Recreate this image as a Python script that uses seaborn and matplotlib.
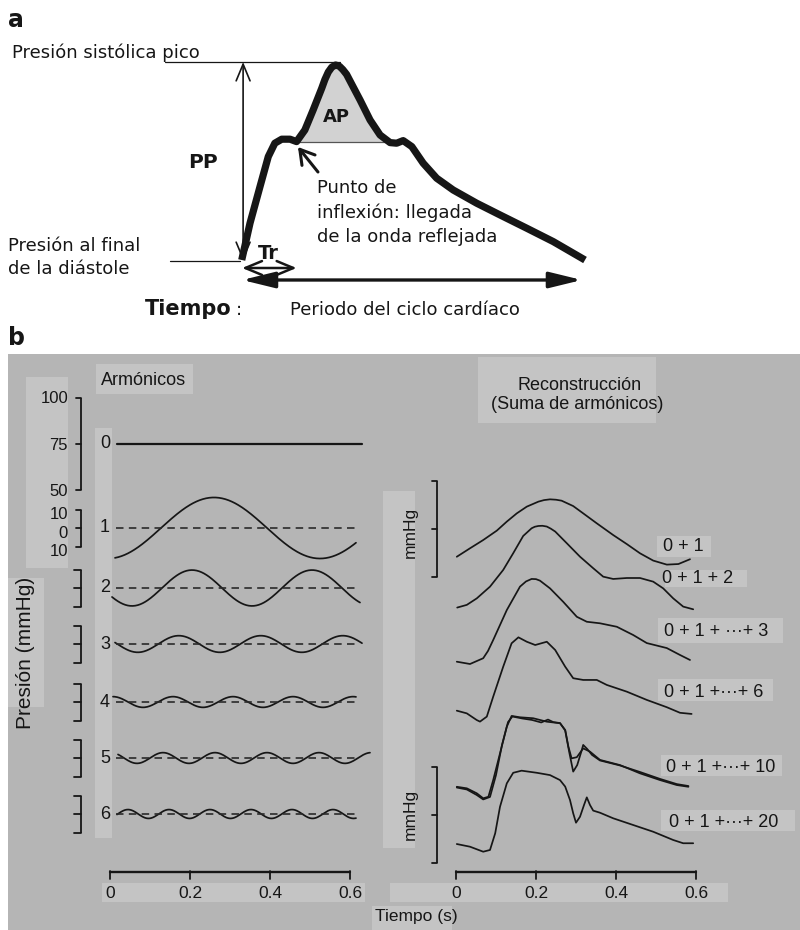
import numpy as np
import matplotlib
matplotlib.use("Agg")
import matplotlib.pyplot as plt
import matplotlib.transforms as mtransforms
from matplotlib.patches import Rectangle
import seaborn as sns

sns.set_theme(style="white")
plt.rcParams["font.family"] = ["Liberation Sans", "DejaVu Sans"]

# ---------------------------------------------------------------- data
# (a) schematic arterial pressure wave: time as fraction of the cycle,
#     pressure normalised (0 = end-diastolic, 1 = peak systolic)
t_onda = [0.005, 0.029, 0.058, 0.082, 0.101, 0.121, 0.145, 0.164, 0.188,
          0.212, 0.237, 0.246, 0.256, 0.266, 0.277, 0.288, 0.298, 0.309,
          0.319, 0.348, 0.377, 0.406, 0.435, 0.454, 0.473, 0.498, 0.531,
          0.570, 0.618, 0.686, 0.754, 0.831, 0.908, 1.0]
p_onda = [0.01, 0.194, 0.377, 0.527, 0.594, 0.614, 0.614, 0.602, 0.66,
          0.76, 0.869, 0.912, 0.950, 0.974, 0.985, 0.979, 0.962, 0.938,
          0.905, 0.81, 0.71, 0.635, 0.597, 0.594, 0.607, 0.577, 0.494,
          0.419, 0.36, 0.294, 0.235, 0.169, 0.102, 0.01]
t_inflexion = 0.164     # arrival of the reflected wave (Tr)
t_muesca = 0.435        # end of the augmentation zone
p_inflexion = 0.601
p_sistolica = 1.0
p_diastolica = 0.005

# (b) harmonics of the measured pressure wave
presion_media = 75                                   # mmHg, harmonic 0
armonicos = [1, 2, 3, 4, 5, 6]
amplitud = [16.5, 9.7, 4.5, 2.9, 2.9, 2.4]           # mmHg
periodo = [0.53, 0.30, 0.205, 0.15, 0.13, 0.1025]    # s
t_pico = [0.26, 0.205, 0.172, 0.0075, 0.1325, 0.045]  # s, first maximum
t_inicio = [0.0125, 0.005, 0.0125, 0.0075, 0.02, 0.0175]
t_fin = [0.615, 0.625, 0.63, 0.615, 0.65, 0.615]

escala_0 = [100, 75, 50]
escala_1 = [10, 0, -10]
escala_1_txt = ["10", "0", "10"]
escala_recon = [50, 75, 100]
ticks_t = [0, 0.2, 0.4, 0.6]
ticks_t_txt = ["0", "0.2", "0.4", "0.6"]

# (b) reconstructions (partial sums of harmonics), t in s, p in mmHg
t_A = [0.002, 0.035, 0.068, 0.102, 0.127, 0.152, 0.177, 0.206, 0.22, 0.235,
       0.25, 0.264, 0.293, 0.318, 0.352, 0.393, 0.427, 0.46, 0.493, 0.527,
       0.556, 0.585]
p_A = [60.3, 64.7, 69.0, 73.9, 78.6, 82.9, 86.4, 89.0, 89.8, 90.2,
       90.0, 89.5, 86.7, 82.9, 77.7, 71.6, 66.9, 62.1, 58.3, 56.2,
       56.5, 59.0]

t_B = [0.003, 0.027, 0.052, 0.085, 0.118, 0.143, 0.168, 0.189, 0.197, 0.206,
       0.216, 0.227, 0.237, 0.248, 0.277, 0.31, 0.343, 0.368, 0.393, 0.427,
       0.46, 0.493, 0.518, 0.543, 0.568, 0.593]
p_B = [56.9, 58.3, 61.7, 67.8, 76.5, 85.2, 94.2, 98.2, 99.0, 99.4,
       99.5, 99.1, 98.0, 96.5, 90.4, 83.4, 77.4, 73.0, 71.8, 72.3,
       72.3, 70.4, 66.9, 61.7, 57.4, 56.0]

t_C = [0.002, 0.035, 0.068, 0.08, 0.093, 0.127, 0.16, 0.175, 0.189, 0.2,
       0.21, 0.235, 0.268, 0.302, 0.327, 0.36, 0.402, 0.443, 0.477, 0.527,
       0.56, 0.585]
p_C = [57.2, 56.0, 59.0, 62.8, 68.5, 84.1, 96.3, 99.0, 100.3, 100.2,
       99.4, 95.4, 88.4, 80.6, 78.0, 77.2, 75.4, 71.1, 66.9, 64.3,
       60.7, 58.1]

t_D = [0.002, 0.027, 0.052, 0.06, 0.077, 0.093, 0.118, 0.139, 0.156, 0.177,
       0.198, 0.227, 0.248, 0.273, 0.293, 0.318, 0.352, 0.377, 0.427, 0.477,
       0.527, 0.56, 0.589]
p_D = [61.9, 60.5, 57.0, 56.2, 58.8, 69.2, 84.8, 97.0, 100.1, 97.8,
       96.1, 97.8, 93.5, 84.8, 78.8, 77.9, 77.9, 75.3, 71.8, 67.5,
       63.7, 60.8, 60.2]

t_E1 = [0.002, 0.027, 0.052, 0.068, 0.081, 0.093, 0.11, 0.127, 0.139, 0.16,
        0.193, 0.227, 0.26, 0.273, 0.281, 0.289, 0.302, 0.318, 0.335, 0.36,
        0.41, 0.46, 0.51, 0.552, 0.581]
p_E1 = [62.0, 61.2, 58.6, 56.0, 56.8, 65.5, 79.4, 93.3, 98.9, 98.2,
        97.7, 95.9, 95.1, 91.6, 82.9, 76.8, 77.4, 82.0, 80.3, 76.0,
        73.3, 69.0, 65.5, 62.9, 62.0]
t_E2 = [0.002, 0.027, 0.052, 0.068, 0.085, 0.1, 0.115, 0.13, 0.141, 0.165,
        0.19, 0.213, 0.23, 0.243, 0.26, 0.273, 0.283, 0.293, 0.303, 0.313,
        0.318, 0.328, 0.34, 0.36, 0.41, 0.46, 0.51, 0.552, 0.581]
p_E2 = [61.6, 60.6, 57.7, 55.4, 56.7, 68.1, 83.8, 95.7, 98.6, 97.6,
        96.8, 95.5, 97.0, 95.7, 95.2, 91.3, 80.1, 69.9, 73.3, 80.1,
        83.8, 81.7, 78.6, 75.7, 73.1, 69.7, 66.1, 63.4, 62.4]

t_F = [0.002, 0.035, 0.068, 0.085, 0.098, 0.11, 0.127, 0.143, 0.164, 0.202,
       0.235, 0.26, 0.273, 0.285, 0.293, 0.3, 0.31, 0.32, 0.327, 0.335,
       0.343, 0.36, 0.393, 0.443, 0.493, 0.543, 0.568, 0.593]
p_F = [60.0, 58.6, 56.0, 56.9, 65.6, 79.4, 91.6, 97.1, 98.2, 97.1,
       95.9, 93.3, 89.9, 82.9, 76.0, 71.1, 74.2, 80.3, 84.3, 80.3,
       77.4, 76.3, 73.4, 69.9, 66.4, 62.1, 60.4, 60.4]

recon_txt = ["0 + 1", "0 + 1 + 2", "0 + 1 + \u00b7\u00b7\u00b7+ 3",
             "0 + 1 +\u00b7\u00b7\u00b7+ 6", "0 + 1 +\u00b7\u00b7\u00b7+ 10",
             "0 + 1 +\u00b7\u00b7\u00b7+ 20"]

# ---------------------------------------------------------------- figure
W, H = 800, 930
fig = plt.figure(figsize=(W / 100, H / 100), dpi=100)
fig.patch.set_facecolor("white")
PX = mtransforms.Affine2D().scale(1 / W, -1 / H).translate(0, 1) + fig.transFigure

INK = "#161616"
GRIS = "#b5b5b5"
CLARO = "#c4c4c4"
FA = "DejaVu Sans"
FB = ["Liberation Sans", "DejaVu Sans"]


def overlay(x0_px, x_scale, y_ref_px, v_ref, y_scale):
    """Transparent full-figure axes with a fixed pixel scale."""
    ax = fig.add_axes([0, 0, 1, 1])
    ax.set_xlim(-x0_px / x_scale, (W - x0_px) / x_scale)
    ax.set_ylim(v_ref - (H - y_ref_px) / y_scale, v_ref + y_ref_px / y_scale)
    ax.set_axis_off()
    return ax


def caja(x0, y0, x1, y1, color=CLARO, z=-1):
    fig.add_artist(Rectangle((x0, y0), x1 - x0, y1 - y0, transform=PX,
                             facecolor=color, edgecolor="none", zorder=z))


def txt(x, y, s, size, **kw):
    kw.setdefault("family", FB)
    fig.text(x, y, s, transform=PX, fontsize=size, color=INK, **kw)


# ================================================================ panel a
ax_a = overlay(240, 345, 262, 0.0, 200)
t_arr, p_arr = np.array(t_onda), np.array(p_onda)
zona = (t_arr >= t_inflexion) & (t_arr <= t_muesca)
ax_a.fill_between(t_arr[zona], p_arr[zona], p_inflexion, color="#d2d2d2",
                  lw=0, zorder=1)
ax_a.plot([t_inflexion, t_muesca], [p_inflexion, p_inflexion],
          color="#555555", lw=0.9, zorder=2)
sns.lineplot(x=t_onda, y=p_onda, sort=False, estimator=None, ax=ax_a,
             color=INK, linewidth=5.2, solid_joinstyle="round",
             solid_capstyle="butt", zorder=3)

ax_a.plot([-0.217, 0.29], [p_sistolica, p_sistolica], color=INK, lw=0.9)
ax_a.plot([-0.203, 0.0], [p_diastolica, p_diastolica], color=INK, lw=0.9)


def flecha(xy0, xy1, style, lw, ms):
    ax_a.annotate("", xy=xy1, xytext=xy0,
                  arrowprops=dict(arrowstyle=style, lw=lw, color=INK,
                                  mutation_scale=ms, shrinkA=0, shrinkB=0))


flecha((0.009, p_diastolica), (0.009, p_sistolica),
       "<->,head_length=0.6,head_width=0.25", 1.2, 20)
flecha((0.006, -0.03), (t_inflexion, -0.03),
       "<->,head_length=0.6,head_width=0.25", 1.8, 20)
flecha((0.006, -0.09), (0.991, -0.09),
       "<|-|>,head_length=0.9,head_width=0.22", 2.4, 22)
flecha((0.226, 0.45), (0.168, 0.575),
       "->,head_length=0.5,head_width=0.3", 2.2, 20)

txt(8, 27, "a", 17, family=FA, weight="bold", va="baseline")
txt(12, 58, "Presión sistólica pico", 13, family=FA, va="baseline")
txt(188, 168, "PP", 14.5, family=FA, weight="bold", va="baseline")
txt(336, 121.5, "AP", 13, family=FA, weight="bold", va="baseline",
    ha="center")
for i, linea in enumerate(["Punto de", "inflexión: llegada",
                           "de la onda reflejada"]):
    txt(316.7, 193.3 + 24.2 * i, linea, 13, family=FA, va="baseline")
txt(8, 251, "Presión al final", 13, family=FA, va="baseline")
txt(8, 274, "de la diástole", 13, family=FA, va="baseline")
txt(258, 259, "Tr", 14, family=FA, weight="bold", va="baseline")
txt(145, 315, "Tiempo", 15, family=FA, weight="bold", va="baseline")
txt(236, 315, ":", 13, family=FA, va="baseline")
txt(290, 315, "Periodo del ciclo cardíaco", 13, family=FA, va="baseline")
txt(8, 345, "b", 17, family=FA, weight="bold", va="baseline")

# ================================================================ panel b
caja(8, 354, W, H, color=GRIS, z=-2)
for b in [(96, 364, 193, 394), (26, 377, 68, 568), (8, 578, 44, 707),
          (95, 428, 112, 838), (478, 357, 656, 423), (383, 491, 415, 848),
          (102, 883, 365, 902), (390, 883, 728, 902), (372, 906, 452, 930),
          (657, 536, 711, 557), (665, 570, 747, 587), (658, 618, 783, 643),
          (658, 679, 773, 701), (661, 755, 782, 776), (661, 810, 795, 831)]:
    caja(*b)

KY_H, KY_R, KX = 1.85, 1.92, 400
filas_px = [444, 528, 588, 644, 702, 758, 814]


def corchete(ax, valores, x_px, largo, etiquetas=None, dy=0):
    tr = mtransforms.blended_transform_factory(PX, ax.transData)
    ax.plot([x_px, x_px], [min(valores), max(valores)], color=INK, lw=1.3,
            transform=tr, solid_capstyle="butt")
    for v in valores:
        ax.plot([x_px - largo, x_px], [v, v], color=INK, lw=1.3, transform=tr)
    if etiquetas:
        tr_t = mtransforms.offset_copy(tr, fig=fig, y=-dy, units="dots")
        for v, s in zip(valores, etiquetas):
            ax.text(68, v, s, transform=tr_t, ha="right", va="center",
                    fontsize=12, color=INK, family=FB)


# harmonic 0
ax0 = overlay(110, KX, filas_px[0], 75, KY_H)
sns.lineplot(x=[0.0175, 0.63], y=[presion_media, presion_media], ax=ax0,
             color=INK, linewidth=1.6)
corchete(ax0, escala_0, 80.5, 5, [str(v) for v in escala_0], dy=1)
ax0.text(105, 75, "0", transform=mtransforms.blended_transform_factory(
    PX, ax0.transData), ha="center", va="center", fontsize=13, color=INK)

# harmonics 1..6
for k, a, T, tp, t0, t1 in zip(armonicos, amplitud, periodo, t_pico,
                               t_inicio, t_fin):
    ax = overlay(110, KX, filas_px[k], 0, KY_H)
    tt = np.linspace(t0, t1, 300)
    sns.lineplot(x=tt, y=a * np.cos(2 * np.pi * (tt - tp) / T), ax=ax,
                 color=INK, linewidth=1.25)
    ax.plot([0.015, 0.62], [0, 0], color="#2a2a2a", lw=1.2,
            dashes=(4.5, 3.2))
    if k == 1:
        corchete(ax, escala_1, 80.5, 5, escala_1_txt, dy=5)
    else:
        corchete(ax, escala_1, 81, 7)
    ax.text(105, 0, str(k), transform=mtransforms.blended_transform_factory(
        PX, ax.transData), ha="center", va="center", fontsize=13, color=INK)

# time axes
for x0 in (110, 456):
    ax = overlay(x0, KX, 872, 0, 1)
    tr = mtransforms.blended_transform_factory(ax.transData, PX)
    ax.plot([ticks_t[0], ticks_t[-1]], [872, 872], color=INK, lw=1.7,
            transform=tr)
    for v, s in zip(ticks_t, ticks_t_txt):
        ax.plot([v, v], [871, 879], color=INK, lw=1.3, transform=tr)
        ax.text(v, 893, s, transform=tr, ha="center", va="center",
                fontsize=12.5, color=INK, family=FB)

# reconstructions
recon_px = [565, 609.3, 664, 722, 798.3, 851.7]
curvas = [[(t_A, p_A)], [(t_B, p_B)], [(t_C, p_C)], [(t_D, p_D)],
          [(t_E1, p_E1), (t_E2, p_E2)], [(t_F, p_F)]]
ejes_r = []
for ypx, trazos in zip(recon_px, curvas):
    ax = overlay(456, KX, ypx, 56, KY_R)
    for tt, pp in trazos:
        sns.lineplot(x=tt, y=pp, sort=False, estimator=None, ax=ax,
                     color=INK, linewidth=1.25)
    ejes_r.append(ax)
corchete(ejes_r[0], escala_recon, 437, 5.5)
corchete(ejes_r[-1], escala_recon, 437, 5.5)

for s, (x, y) in zip(recon_txt, [(663, 546), (662, 578), (664, 631),
                                 (664, 692), (666, 767), (669, 822)]):
    txt(x, y, s, 13, va="center")

txt(101, 380, "Armónicos", 13, va="center")
txt(580, 390, "Reconstrucción", 13, va="baseline", ha="center")
txt(577, 408.5, "(Suma de armónicos)", 13, va="baseline", ha="center")
txt(26, 653, "Presión (mmHg)", 15, va="center", ha="center", rotation=90)
txt(410, 532, "mmHg", 12.5, va="center", ha="center", rotation=90)
txt(410, 814, "mmHg", 12.5, va="center", ha="center", rotation=90)
txt(375, 916, "Tiempo (s)", 12.5, va="center")

fig.savefig("out.png", dpi=100)
